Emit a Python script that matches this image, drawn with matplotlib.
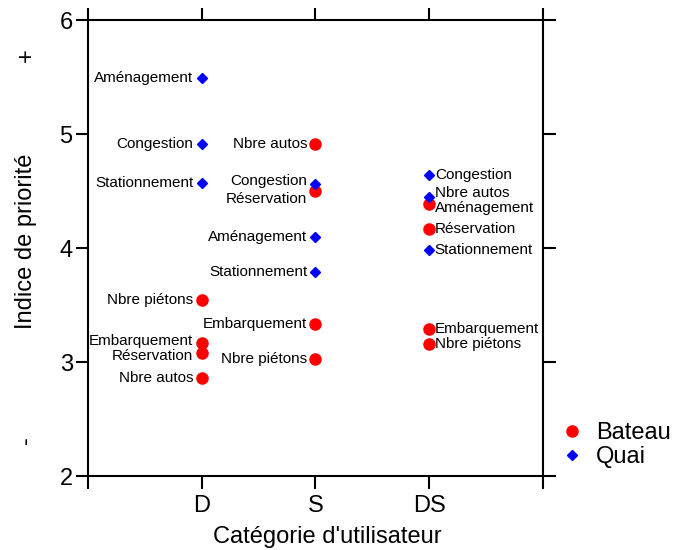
import matplotlib.pyplot as plt

plt.rcParams["font.family"] = ["Liberation Sans", "DejaVu Sans"]

categories = ["D", "S", "DS"]

bateau_cat = ["D", "D", "D", "D", "S", "S", "S", "S", "DS", "DS", "DS", "DS"]
bateau_item = ["Nbre piétons", "Embarquement", "Réservation", "Nbre autos",
               "Nbre autos", "Réservation", "Embarquement", "Nbre piétons",
               "Aménagement", "Réservation", "Embarquement", "Nbre piétons"]
bateau_val = [3.54, 3.17, 3.08, 2.86,
              4.91, 4.50, 3.33, 3.03,
              4.39, 4.17, 3.29, 3.16]

quai_cat = ["D", "D", "D", "S", "S", "S", "DS", "DS", "DS"]
quai_item = ["Aménagement", "Congestion", "Stationnement",
             "Congestion", "Aménagement", "Stationnement",
             "Congestion", "Nbre autos", "Stationnement"]
quai_val = [5.49, 4.91, 4.57,
            4.56, 4.10, 3.79,
            4.64, 4.45, 3.98]

# vertical nudges (points) for labels that would overlap
nudge = {("S", "Congestion"): 2, ("S", "Réservation"): -6,
         ("D", "Embarquement"): 1, ("D", "Réservation"): -2,
         ("DS", "Nbre autos"): 3, ("DS", "Aménagement"): -3}

fig = plt.figure(figsize=(6.95, 5.5), dpi=100)
ax = fig.add_axes([0.1266, 0.1345, 0.6547, 0.8291])

pos = {c: i + 1 for i, c in enumerate(categories)}


def label_points(cats, items, vals):
    for c, it, v in zip(cats, items, vals):
        dy = nudge.get((c, it), 0)
        if c == "DS":
            ax.annotate(it, (pos[c], v), xytext=(4, dy), textcoords="offset points",
                        ha="left", va="center", fontsize=11)
        else:
            ax.annotate(it, (pos[c], v), xytext=(-6, dy), textcoords="offset points",
                        ha="right", va="center", fontsize=11)


ax.plot([pos[c] for c in bateau_cat], bateau_val, "o", color="#ff0000",
        markersize=8, linestyle="none", label="Bateau")
ax.plot([pos[c] for c in quai_cat], quai_val, "D", color="#0000ff",
        markersize=5, linestyle="none", label="Quai")
label_points(bateau_cat, bateau_item, bateau_val)
label_points(quai_cat, quai_item, quai_val)

ax.set_xlim(0, 4)
ax.set_ylim(2, 6)
ax.set_xticks([0, 1, 2, 3, 4])
ax.set_xticklabels([""] + categories + [""], fontsize=17)
ax.set_yticks([2, 3, 4, 5, 6])
ax.set_yticklabels(["2", "3", "4", "5", "6"], fontsize=17)
ax.tick_params(direction="out", length=9, width=1.5, top=True, right=True,
               labeltop=False, labelright=False)
ax.tick_params(axis="x", pad=5)
ax.tick_params(axis="y", pad=2)
for s in ax.spines.values():
    s.set_linewidth(1.5)

fig.text(0.4705, 0.023, "Catégorie d'utilisateur", fontsize=17,
         ha="center", va="center")
fig.text(0.038, 0.562, "Indice de priorité", rotation=90, fontsize=17,
         ha="center", va="center")
fig.text(0.038, 0.9, "+", rotation=90, fontsize=17, ha="center", va="center")
fig.text(0.038, 0.2, "-", rotation=90, fontsize=17, ha="center", va="center")

fig.legend(loc="upper left", bbox_to_anchor=(0.796, 0.25), frameon=False,
           fontsize=17, handletextpad=0.6, labelspacing=0.1, borderaxespad=0,
           handlelength=0.8)

fig.savefig("out.png", dpi=100)
